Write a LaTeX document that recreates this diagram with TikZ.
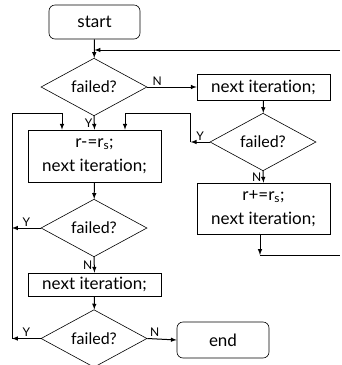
\documentclass[tikz,border=0pt]{standalone}
\usepackage{fontspec}
\setmainfont{Lato}[Ligatures={NoCommon,NoRequired}]
\usetikzlibrary{shapes.geometric}

\begin{document}
\begin{tikzpicture}[x=1pt, y=-1pt, line width=1pt,
  term/.style={draw, line width=0.6pt, rounded corners=6pt, minimum width=91pt, font=\fontsize{17}{20}\selectfont},
  proc/.style={draw, line width=0.6pt, minimum width=133pt, align=center, font=\fontsize{17}{24}\selectfont},
  test/.style={draw, line width=0.6pt, diamond, inner sep=0pt, minimum width=106pt, minimum height=51pt, font=\fontsize{16}{19}\selectfont},
  lbl/.style={font=\fontsize{12}{14}\selectfont, inner sep=1.5pt}]
\useasboundingbox (0,0) rectangle (341,365);
%
\node [term, minimum height=34pt] (start) at (94.5,22) {start};
\node [test] (failA) at (94,87) {failed?};
\node [proc, minimum height=26pt] (nextA) at (263.5,87) {next iteration;};
\node [test] (failB) at (263,142) {failed?};
\node [proc, minimum height=52pt] (decr) at (94.5,156) {r-=r\textsubscript{s};\\next iteration;};
\node [proc, minimum height=51pt] (incr) at (263.5,208.5) {r+=r\textsubscript{s};\\next iteration;};
\node [test] (failC) at (94,228) {failed?};
\node [proc, minimum height=23pt] (nextC) at (94.5,284.5) {next iteration;};
\node [test] (failD) at (94,338.5) {failed?};
\node [term, minimum height=36pt, minimum width=92pt] (end) at (223,340) {end};
%
\coordinate (topR) at (340,50);
\coordinate (botR) at (340,255);
\coordinate (railL) at (12,113);
\coordinate (turnL) at (62,113);
\coordinate (turnB) at (125,113);
%
\draw [-latex] (start) -- (failA);
\draw [-latex] (topR) -- (topR -| start.south);
\draw [-latex] (failA.east) -- node [lbl, above, pos=0.2] {N} (nextA.west);
\draw [-latex] (failA.south) -- node [lbl, left] {Y} (decr.north);
\draw [-latex] (nextA) -- (failB);
\draw [-latex] (failB.west) -- node [lbl, above] {Y} ++(-19,0) coordinate (yB);
\draw [-latex] (yB) |- (turnB) -- (turnB |- decr.north);
\draw [-latex] (failB.south) -- node [lbl, left] {N} (incr.north);
\draw [-latex] (incr.south -| 260,0) -- (260,255) coordinate (dropR);
\draw (dropR) -- (botR);
%
\draw [-latex] (decr) -- (failC);
\draw [-latex] (failC.west) -- node [lbl, above] {Y} (failC.west -| railL);
\draw [-latex] (failC.south) -- node [lbl, left] {N} (nextC.north);
\draw [-latex] (nextC) -- (failD);
\draw [-latex] (failD.west) -- node [lbl, above] {Y} (failD.west -| railL);
\draw [-latex] (failD.east) -- node [lbl, above, pos=0.25] {N} (end.west);
\draw [-latex] (failD.west -| railL) -- (railL) -- (turnL) -- (turnL |- decr.north);
%
\end{tikzpicture}
\end{document}
